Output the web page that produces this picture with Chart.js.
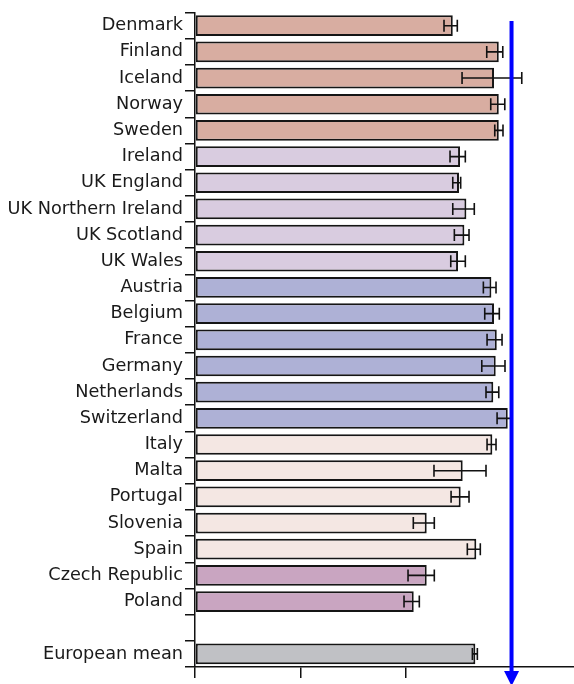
<!DOCTYPE html>
<html>
<head>
<meta charset="utf-8">
<script src="https://cdn.jsdelivr.net/npm/chart.js@4.4.1/dist/chart.umd.min.js"></script>
<style>
html,body{margin:0;padding:0;background:#fff;}
#wrap{position:relative;width:574px;height:684px;}
</style>
</head>
<body>
<div id="wrap"><canvas id="c" width="574" height="684"></canvas></div>
<script>
const categories = ["Denmark","Finland","Iceland","Norway","Sweden","Ireland","UK England","UK Northern Ireland","UK Scotland","UK Wales","Austria","Belgium","France","Germany","Netherlands","Switzerland","Italy","Malta","Portugal","Slovenia","Spain","Czech Republic","Poland","","European mean"];
const values  = [24.43,28.79,28.34,28.79,28.79,25.12,25.02,25.72,25.53,24.93,28.09,28.34,28.60,28.50,28.27,29.64,28.18,25.37,25.18,21.96,26.66,21.96,20.73,null,26.57];
const errLow  = [23.60,27.65,25.31,28.03,28.41,24.17,24.43,24.43,24.58,24.24,27.33,27.46,27.68,27.18,27.58,28.63,27.68,22.65,24.27,20.69,25.81,20.19,19.81,null,26.29];
const errHigh = [24.86,29.17,30.97,29.36,29.19,25.62,25.18,26.47,25.97,25.62,28.53,28.84,29.10,29.38,28.79,30.02,28.53,27.58,25.97,22.68,27.04,22.68,21.26,null,26.76];
const groups  = ["N","N","N","N","N","U","U","U","U","U","W","W","W","W","W","W","S","S","S","S","S","E","E","","M"];
const groupColors = {N:"#d8ada1",U:"#d9cce0",W:"#aeb1d6",S:"#f4e7e3",E:"#c9a5c1",M:"#c0c1c5","":"#ffffff"};
const xTicks = [0, 10, 20, 30];
const referenceValue = 30;

const barColors = groups.map(g => groupColors[g]);

const errorBars = {
  id: 'errorBars',
  afterDatasetsDraw(chart) {
    const ctx = chart.ctx, xs = chart.scales.x, ys = chart.scales.y;
    ctx.save();
    ctx.strokeStyle = '#111';
    ctx.lineWidth = 1.6;
    for (let i = 0; i < categories.length; i++) {
      if (errLow[i] == null) continue;
      const y = ys.getPixelForValue(i);
      const x1 = xs.getPixelForValue(errLow[i]);
      const x2 = xs.getPixelForValue(errHigh[i]);
      ctx.beginPath();
      ctx.moveTo(x1, y); ctx.lineTo(x2, y);
      ctx.moveTo(x1, y - 6); ctx.lineTo(x1, y + 6);
      ctx.moveTo(x2, y - 6); ctx.lineTo(x2, y + 6);
      ctx.stroke();
    }
    ctx.restore();
  }
};

const arrow = {
  id: 'arrow',
  afterDraw(chart) {
    const ctx = chart.ctx, xs = chart.scales.x;
    const x = xs.getPixelForValue(referenceValue);
    ctx.save();
    ctx.strokeStyle = '#0000ff';
    ctx.fillStyle = '#0000ff';
    ctx.lineWidth = 4;
    ctx.beginPath();
    ctx.moveTo(x, 21);
    ctx.lineTo(x, 673);
    ctx.stroke();
    ctx.beginPath();
    ctx.moveTo(x - 7.5, 671);
    ctx.lineTo(x + 7.5, 671);
    ctx.lineTo(x, 686);
    ctx.closePath();
    ctx.fill();
    ctx.restore();
  }
};

new Chart(document.getElementById('c'), {
  type: 'bar',
  data: {
    labels: categories,
    datasets: [{
      data: values,
      backgroundColor: barColors,
      borderColor: '#151515',
      borderWidth: 2,
      borderSkipped: false,
      barPercentage: 0.79,
      categoryPercentage: 1.0
    }]
  },
  options: {
    indexAxis: 'y',
    responsive: false,
    animation: false,
    devicePixelRatio: 1,
    layout: { padding: { top: 11, right: 0, left: 0, bottom: 0 } },
    plugins: { legend: { display: false }, tooltip: { enabled: false } },
    scales: {
      x: {
        min: 0,
        max: 35.92,
        ticks: { display: false },
        afterBuildTicks(scale) { scale.ticks = xTicks.map(v => ({ value: v })); },
        grid: { drawOnChartArea: false, drawTicks: true, tickLength: 11, color: '#111', lineWidth: 1.5 },
        border: { display: true, color: '#111', width: 1.5 },
        afterFit(scale) { scale.height = 17; }
      },
      y: {
        offset: true,
        ticks: {
          color: '#1a1a1a',
          font: { family: 'DejaVu Sans', size: 17.7 },
          padding: 2,
          autoSkip: false
        },
        grid: { offset: true, drawOnChartArea: false, drawTicks: true, tickLength: 10, color: '#111', lineWidth: 1.5 },
        border: { display: true, color: '#111', width: 1.5 },
        afterFit(scale) { scale.width = 195; }
      }
    }
  },
  plugins: [errorBars, arrow]
});
</script>
</body>
</html>
